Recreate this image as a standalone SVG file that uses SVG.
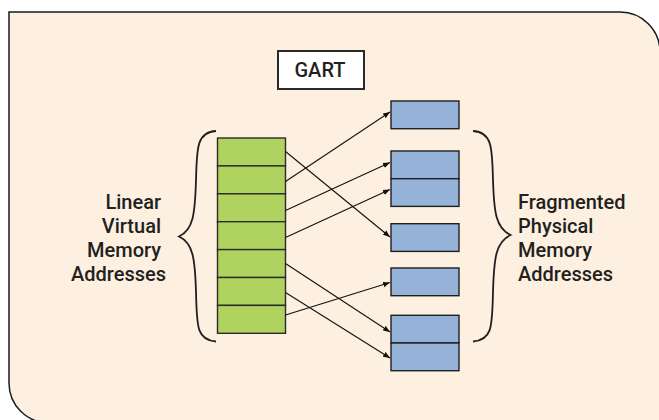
<svg xmlns="http://www.w3.org/2000/svg" width="659" height="420" viewBox="0 0 659 420">
  <defs>
    <marker id="arrowhead" viewBox="0 0 10 10" refX="10" refY="5" markerWidth="7" markerHeight="7" markerUnits="userSpaceOnUse" orient="auto">
      <path d="M0,1 L10,5 L0,9 Z" fill="#111"/>
    </marker>
  </defs>
  <style>
    .panel { fill: #FDF0E1; stroke: #1a1a1a; stroke-width: 1.5; }
    .virt { fill: #B0D25E; stroke: #2b2b2b; stroke-width: 1.4; }
    .phys { fill: #95B3D9; stroke: #1f1f1f; stroke-width: 1.4; }
    .title { fill: #ffffff; stroke: #2a2a2a; stroke-width: 2; }
    .label { font-family: Roboto, "Liberation Sans", sans-serif; font-size: 20px; font-weight: 500; fill: #231F20; }
    .brace { fill: none; stroke: #231F20; stroke-width: 1.8; }
    .link { stroke: #111; stroke-width: 1.1; fill: none; marker-end: url(#arrowhead); }
  </style>

  <!-- background panel: square top-left, rounded top-right and bottom-left -->
  <path class="panel" d="M9,12 H620 A40,40 0 0 1 660,52 V423 H49 A40,40 0 0 1 9,383 Z"/>

  <g id="gart">
    <rect class="title" x="278" y="51" width="86" height="38"/>
    <text class="label" x="320" y="77" text-anchor="middle">GART</text>
  </g>

  <g id="virtual-pages">
    <rect class="virt" x="217.5" y="138" width="68" height="27.9"/>
    <rect class="virt" x="217.5" y="165.9" width="68" height="27.9"/>
    <rect class="virt" x="217.5" y="193.8" width="68" height="27.9"/>
    <rect class="virt" x="217.5" y="221.7" width="68" height="27.9"/>
    <rect class="virt" x="217.5" y="249.6" width="68" height="27.9"/>
    <rect class="virt" x="217.5" y="277.5" width="68" height="27.9"/>
    <rect class="virt" x="217.5" y="305.4" width="68" height="27.9"/>
  </g>

  <g id="physical-pages">
    <rect class="phys" x="391" y="101" width="68" height="27.7"/>
    <rect class="phys" x="391" y="151" width="68" height="27.7"/>
    <rect class="phys" x="391" y="178.7" width="68" height="27.7"/>
    <rect class="phys" x="391" y="223.7" width="68" height="27.7"/>
    <rect class="phys" x="391" y="268" width="68" height="27.7"/>
    <rect class="phys" x="391" y="315.3" width="68" height="27.7"/>
    <rect class="phys" x="391" y="343" width="68" height="27.7"/>
  </g>

  <g id="connectors">
    <line class="link" x1="285.5" y1="151.5" x2="390" y2="237"/>
    <line class="link" x1="285.5" y1="181.5" x2="390" y2="112"/>
    <line class="link" x1="285.5" y1="210.5" x2="390" y2="162.5"/>
    <line class="link" x1="285.5" y1="237.5" x2="390" y2="189.5"/>
    <line class="link" x1="285.5" y1="263.5" x2="390" y2="332"/>
    <line class="link" x1="285.5" y1="292.5" x2="390" y2="358"/>
    <line class="link" x1="285.5" y1="315" x2="390" y2="282.5"/>
  </g>

  <g id="virtual-label">
    <path class="brace" d="M216,131 C196,132 197,150 196,180 C195,215 193,230 179,236.5 C193,243 195,258 196,292 C197,325 196,340 216,341.5"/>
    <text class="label" text-anchor="end">
      <tspan x="166" y="209">Linear</tspan>
      <tspan x="166" y="233">Virtual</tspan>
      <tspan x="166" y="257">Memory</tspan>
      <tspan x="166" y="281">Addresses</tspan>
    </text>
  </g>

  <g id="physical-label">
    <path class="brace" d="M473,131 C493,132 492,150 493,180 C494,213 496,228 510.5,235 C496,242 494,257 493,292 C492,325 493,340 473,341.5"/>
    <text class="label">
      <tspan x="518" y="209">Fragmented</tspan>
      <tspan x="518" y="233">Physical</tspan>
      <tspan x="518" y="257">Memory</tspan>
      <tspan x="518" y="281">Addresses</tspan>
    </text>
  </g>
</svg>
